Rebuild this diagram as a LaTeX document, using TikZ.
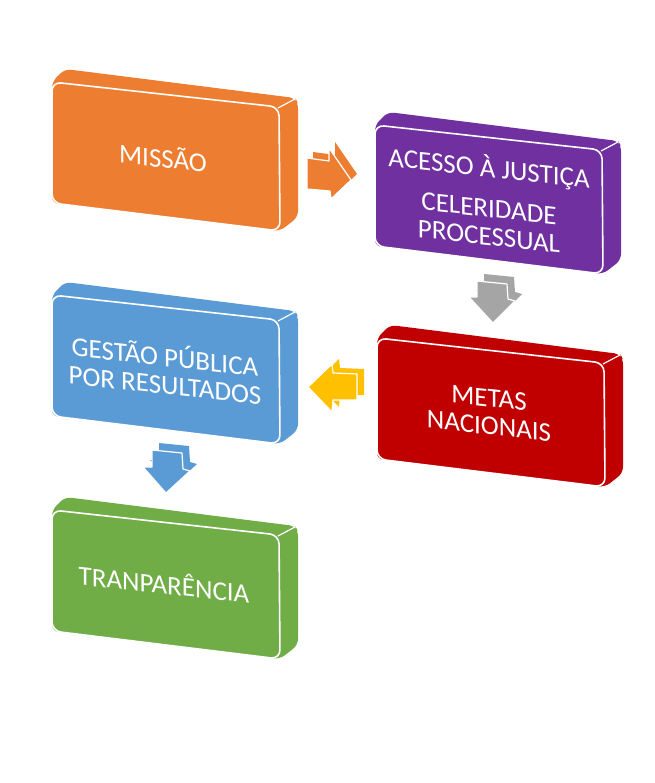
\documentclass[tikz,border=0pt]{standalone}
\usepackage{fontspec}
\setmainfont{Carlito}
\definecolor{cOrange}{HTML}{ED7D31}
\definecolor{cPurple}{HTML}{7030A0}
\definecolor{cGray}{HTML}{A5A5A5}
\definecolor{cRed}{HTML}{C00000}
\definecolor{cYellow}{HTML}{FFC000}
\definecolor{cBlue}{HTML}{5B9BD5}
\definecolor{cGreen}{HTML}{70AD47}
\tikzset{
  facebox/.style={fill=#1, draw=white, line width=1.6pt, rounded corners=9pt},
  bodybox/.style={fill=#1, rounded corners=6pt},
  lbl/.style={text=white, font=\fontsize{27}{28}\selectfont, align=center, yslant=-0.11, inner sep=0pt},
  arrfront/.style={fill=#1, draw=white, line width=1.2pt, line join=round},
}
\newcommand{\boxthreed}[3]{%
  \begin{scope}[shift={(#1,#2)}]
    \fill[bodybox=#3] (0,0) -- (13,-13) -- (243,16) -- (246,21) -- (246,135) -- (228,149) -- (0,121) -- cycle;
    \draw[facebox=#3] (0,0) -- (227,25) -- (228,149) -- (0,121) -- cycle;
    \draw[white, line width=1.2pt] (226,26) -- (243,17);
  \end{scope}}
\newcommand{\arrowthreed}[4]{%
  \fill[#1] #3;
  \draw[arrfront=#1] #4;}
\begin{document}
\begin{tikzpicture}[x=1pt, y=-1pt]
  \fill[white] (0,0) rectangle (654,783);
  \useasboundingbox (0,0) rectangle (654,783);
  % boxes
  \boxthreed{52}{82}{cOrange}
  \boxthreed{375}{125}{cPurple}
  \boxthreed{52}{295}{cBlue}
  \boxthreed{377}{338}{cRed}
  \boxthreed{52}{510}{cGreen}
  % labels
  \node[lbl] (missao) at (163,157) {MISSÃO};
  \node[lbl] (acesso) at (489,200) {ACESSO À JUSTIÇA\\[12pt] CELERIDADE\\ PROCESSUAL};
  \node[lbl] (gestao) at (165,369) {GESTÃO PÚBLICA\\ POR RESULTADOS};
  \node[lbl] (metas) at (489,412) {METAS\\ NACIONAIS};
  \node[lbl] (transp) at (164,583) {TRANPARÊNCIA};
  % arrows
  \arrowthreed{cOrange}{}{(313,152) -- (335,155) -- (335,142) -- (357,174) -- (337,193) -- (336,185) -- (313,183) -- cycle}
    {(307,158) -- (329,161) -- (329,148) -- (351,180) -- (331,199) -- (330,191) -- (307,189) -- cycle}
  \arrowthreed{cGray}{}{(484,274) -- (514,277) -- (515,292) -- (522,294) -- (500,316) -- (476,290) -- (484,290) -- cycle}
    {(477,281) -- (507,284) -- (508,299) -- (515,301) -- (493,323) -- (469,297) -- (477,297) -- cycle}
  \arrowthreed{cYellow}{}{(315,382) -- (339,359) -- (340,368) -- (364,369) -- (364,395) -- (340,395) -- (339,407) -- cycle}
    {(308,387) -- (332,364) -- (333,373) -- (357,374) -- (357,400) -- (333,400) -- (332,412) -- cycle}
  \arrowthreed{cBlue}{}{(159,443) -- (189,446) -- (190,462) -- (197,464) -- (173,486) -- (150,460) -- (159,460) -- cycle}
    {(152,450) -- (182,453) -- (183,469) -- (190,471) -- (166,493) -- (143,467) -- (152,467) -- cycle}
\end{tikzpicture}
\end{document}
